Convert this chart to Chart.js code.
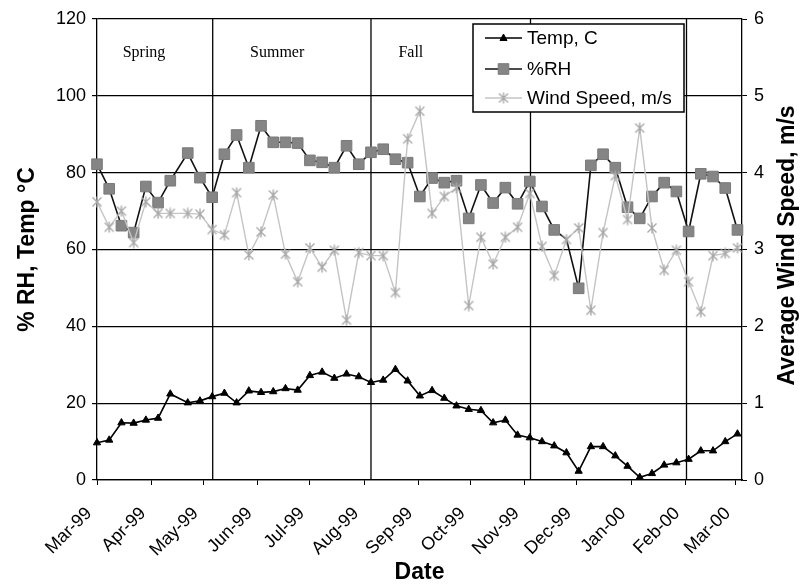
<!DOCTYPE html>
<html>
<head>
<meta charset="utf-8">
<script src="https://cdn.jsdelivr.net/npm/chart.js@4.4.1/dist/chart.umd.min.js"></script>
<style>
  body { margin: 0; background: #fff; }
  #wrap { width: 804px; height: 584px; }
</style>
</head>
<body>
<div id="wrap"><canvas id="chart" width="804" height="584"></canvas></div>
<script>
// sampling days, counted from 1 Mar 1999
const sampleDays = [0, 7, 14, 21, 28, 35, 42, 52, 59, 66, 73, 80, 87, 94, 101, 108, 115, 122, 129, 136,
    143, 150, 157, 164, 171, 178, 185, 192, 199, 206, 213, 220, 227, 234, 241, 248, 255, 262, 269, 276,
    283, 290, 297, 304, 311, 318, 325, 332, 339, 346, 353, 360, 367];

const tempC = [9.7, 10.4, 14.9, 14.8, 15.6, 16.1, 22.4, 20.1, 20.6, 21.7, 22.6, 20.1, 23.2, 22.8, 23.0, 23.8,
    23.4, 27.2, 28.1, 26.5, 27.6, 26.9, 25.4, 26.0, 28.8, 25.8, 21.9, 23.3, 21.3, 19.3, 18.4, 18.1, 14.9,
    15.6, 11.7, 11.0, 10.0, 8.9, 7.1, 2.3, 8.7, 8.7, 6.3, 3.6, 0.7, 1.7, 3.9, 4.5, 5.4, 7.6, 7.6, 10.0, 12.0];

const relHumidity = [82.2, 75.8, 66.2, 64.4, 76.4, 72.2, 77.9, 85.1, 78.7, 73.6, 84.8, 89.8, 81.3, 92.2,
    87.9, 87.9, 87.7, 83.2, 82.7, 81.3, 87.0, 82.2, 85.3, 86.1, 83.5, 82.6, 73.8, 78.6, 77.4, 77.9, 68.1,
    76.8, 72.1, 76.1, 71.9, 77.7, 71.2, 65.1, 62.7, 49.9, 81.9, 84.8, 81.3, 71.0, 68.1, 73.8, 77.4, 75.1,
    64.7, 79.7, 79.0, 76.0, 65.1];

const windSpeed = [3.62, 3.29, 3.50, 3.09, 3.62, 3.47, 3.47, 3.47, 3.46, 3.26, 3.19, 3.74, 2.93, 3.23,
    3.71, 2.94, 2.58, 3.02, 2.77, 2.99, 2.08, 2.96, 2.92, 2.92, 2.44, 4.44, 4.80, 3.47, 3.69, 3.80, 2.27,
    3.16, 2.81, 3.16, 3.29, 3.73, 3.04, 2.66, 3.13, 3.28, 2.21, 3.22, 3.96, 3.39, 4.58, 3.28, 2.73, 2.99,
    2.58, 2.19, 2.92, 2.95, 3.02];

// the %RH point that has no marker in the original
const rhNoMarker = 38;

const monthDays = [0, 31, 61, 92, 122, 153, 184, 214, 245, 275, 306, 337, 366];
const monthLabels = ['Mar-99', 'Apr-99', 'May-99', 'Jun-99', 'Jul-99', 'Aug-99', 'Sep-99', 'Oct-99',
    'Nov-99', 'Dec-99', 'Jan-00', 'Feb-00', 'Mar-00'];

const seasonBounds = [66.3, 157, 248.4, 337.8];
const seasonNames = ['Spring', 'Summer', 'Fall'];
const seasonLabelDays = [14.7, 87.7, 172.7];

const seriesNames = ['Temp, C', '%RH', 'Wind Speed, m/s'];

const FONT = 'Liberation Sans, Arial, sans-serif';

// Excel style star marker: X with a vertical bar
function makeStar(size, color) {
    const c = document.createElement('canvas');
    c.width = c.height = size;
    const g = c.getContext('2d');
    g.strokeStyle = color;
    g.lineWidth = 1.4;
    const m = size / 2, r = size / 2 - 1.5;
    g.beginPath();
    g.moveTo(m - r, m - r); g.lineTo(m + r, m + r);
    g.moveTo(m + r, m - r); g.lineTo(m - r, m + r);
    g.moveTo(m, 0.5); g.lineTo(m, size - 0.5);
    g.stroke();
    return c;
}
const star = makeStar(12, '#a9a9a9');

const toPoints = arr => sampleDays.map((d, i) => ({ x: d, y: arr[i] }));

// season dividers and labels
const seasons = {
    id: 'seasons',
    beforeDatasetsDraw(chart) {
        const { ctx, chartArea: a, scales: { x } } = chart;
        ctx.save();
        ctx.strokeStyle = '#000';
        ctx.lineWidth = 1.3;
        seasonBounds.forEach(d => {
            const px = x.getPixelForValue(d);
            ctx.beginPath();
            ctx.moveTo(px, a.top);
            ctx.lineTo(px, a.bottom);
            ctx.stroke();
        });
        ctx.fillStyle = '#000';
        ctx.font = '16px "Liberation Serif", "Times New Roman", serif';
        ctx.textBaseline = 'alphabetic';
        ctx.textAlign = 'left';
        seasonNames.forEach((n, i) => ctx.fillText(n, x.getPixelForValue(seasonLabelDays[i]), a.top + 38));
        ctx.restore();
    }
};

// legend box inside the plot and the right axis title
const extras = {
    id: 'extras',
    afterDraw(chart) {
        const { ctx, chartArea: a } = chart;
        ctx.save();
        const bx = a.right - 269, by = a.top + 5, bw = 211, bh = 88;
        ctx.fillStyle = '#fff';
        ctx.fillRect(bx, by, bw, bh);
        ctx.strokeStyle = '#000';
        ctx.lineWidth = 1.5;
        ctx.strokeRect(bx, by, bw, bh);

        const rows = [by + 14, by + 45, by + 74];
        const x0 = bx + 12, x1 = bx + 49, xm = bx + 30.5;
        chart.data.datasets.forEach((ds, i) => {
            const y = rows[i];
            ctx.strokeStyle = ds.borderColor;
            ctx.lineWidth = ds.borderWidth;
            ctx.beginPath();
            ctx.moveTo(x0, y);
            ctx.lineTo(x1, y);
            ctx.stroke();
            if (i === 2) {
                Chart.helpers.drawPoint(ctx, { pointStyle: ds.pointStyle, radius: 5, borderWidth: 1 }, xm, y);
            } else {
                ctx.fillStyle = ds.pointBackgroundColor;
                ctx.strokeStyle = ds.pointBorderColor;
                ctx.lineWidth = 1;
                ctx.beginPath();
                if (i === 0) {
                    ctx.moveTo(xm, y - 4); ctx.lineTo(xm + 3.5, y + 2.5); ctx.lineTo(xm - 3.5, y + 2.5);
                } else {
                    ctx.rect(xm - 5.3, y - 5.3, 10.6, 10.6);
                }
                ctx.closePath();
                ctx.fill();
                ctx.stroke();
            }
            ctx.fillStyle = '#000';
            ctx.font = '19px ' + FONT;
            ctx.textAlign = 'left';
            ctx.textBaseline = 'middle';
            ctx.fillText(seriesNames[i], bx + 54, y + 1);
        });

        ctx.translate(788, (a.top + a.bottom) / 2 - 4);
        ctx.rotate(-Math.PI / 2);
        ctx.font = 'bold 23px ' + FONT;
        ctx.fillStyle = '#000';
        ctx.textAlign = 'center';
        ctx.textBaseline = 'middle';
        ctx.fillText('Average Wind Speed, m/s', 0, 0);
        ctx.restore();
    }
};

new Chart(document.getElementById('chart').getContext('2d'), {
    type: 'line',
    data: {
        datasets: [
            {
                label: seriesNames[0], data: toPoints(tempC), yAxisID: 'y', order: 2,
                borderColor: '#000', borderWidth: 1.6,
                pointStyle: 'triangle', pointRadius: 4.2,
                pointBackgroundColor: '#000', pointBorderColor: '#000', pointBorderWidth: 1,
                clip: false
            },
            {
                label: seriesNames[1], data: toPoints(relHumidity), yAxisID: 'y', order: 1,
                borderColor: '#111', borderWidth: 1.6,
                pointStyle: 'rect',
                pointRadius: ctx => ctx.dataIndex === rhNoMarker ? 0 : 7.5,
                pointBackgroundColor: '#858585', pointBorderColor: '#7a7a7a', pointBorderWidth: 1,
                clip: false
            },
            {
                label: seriesNames[2], data: toPoints(windSpeed), yAxisID: 'y2', order: 0,
                borderColor: '#c4c4c4', borderWidth: 1.4,
                pointStyle: star, pointRadius: 5,
                clip: false
            }
        ]
    },
    options: {
        responsive: false,
        animation: false,
        devicePixelRatio: 1,
        layout: { padding: { top: 19, left: 0, right: 0, bottom: 0 } },
        elements: { line: { tension: 0 } },
        plugins: { legend: { display: false }, tooltip: { enabled: false } },
        scales: {
            x: {
                type: 'linear', min: 0, max: 369.6,
                afterBuildTicks: s => { s.ticks = monthDays.map(v => ({ value: v })); },
                afterFit: s => { s.height = 104; },
                ticks: {
                    autoSkip: false, minRotation: 45, maxRotation: 45, padding: 18, labelOffset: -8,
                    color: '#000', font: { family: FONT, size: 18 },
                    callback: (v, i) => monthLabels[i]
                },
                grid: { drawOnChartArea: false, drawTicks: true, tickLength: 5, color: '#000' },
                border: { display: true, color: '#000', width: 1.3 },
                title: {
                    display: true, text: 'Date', color: '#000',
                    font: { family: FONT, size: 23, weight: 'bold', lineHeight: 1 },
                    padding: { top: 0, bottom: 0 }
                }
            },
            y: {
                position: 'left', min: 0, max: 120,
                afterFit: s => { s.width = 97; },
                ticks: { stepSize: 20, padding: 6, color: '#000', font: { family: FONT, size: 18 } },
                grid: { color: '#000', lineWidth: 1.2, drawTicks: true, tickLength: 5 },
                border: { display: true, color: '#000', width: 1.3 },
                title: {
                    display: true, text: '% RH, Temp °C', color: '#000',
                    font: { family: FONT, size: 23, weight: 'bold', lineHeight: 1.2 },
                    padding: { top: 14, bottom: 0 }
                }
            },
            y2: {
                position: 'right', min: 0, max: 6,
                afterFit: s => { s.width = 62; },
                ticks: { stepSize: 1, padding: 7, color: '#000', font: { family: FONT, size: 18 } },
                grid: { drawOnChartArea: false, drawTicks: true, tickLength: 5, color: '#000' },
                border: { display: true, color: '#000', width: 1.3 }
            }
        }
    },
    plugins: [seasons, extras]
});
</script>
</body>
</html>
